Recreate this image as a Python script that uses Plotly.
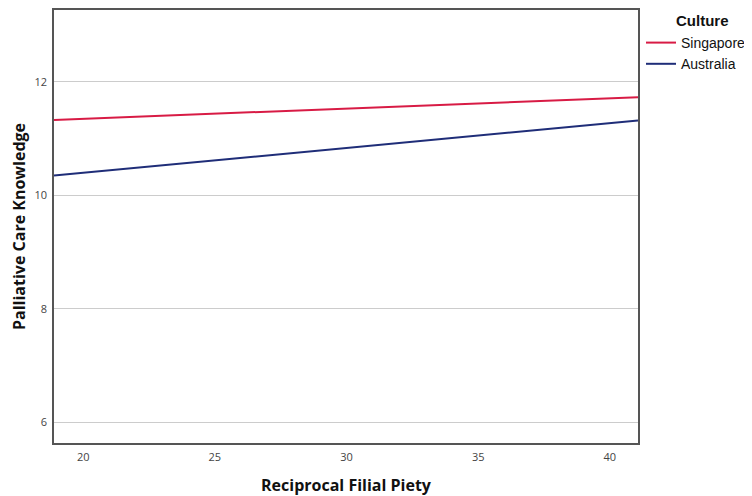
import plotly.graph_objects as go

x_range = [18.89, 41.07]
y_range = [5.63, 13.27]
singapore_x = [18.89, 41.07]
singapore_y = [11.33, 11.73]
australia_x = [18.89, 41.07]
australia_y = [10.35, 11.32]
x_ticks = [20, 25, 30, 35, 40]
y_ticks = [6, 8, 10, 12]

fig = go.Figure()
fig.add_trace(go.Scatter(x=singapore_x, y=singapore_y, mode="lines", name="Singapore",
                         line=dict(color="#d81b45", width=2)))
fig.add_trace(go.Scatter(x=australia_x, y=australia_y, mode="lines", name="Australia",
                         line=dict(color="#1f2d78", width=2)))

W, H = 744, 488
L, R, T, B = 46, 114, 2, 53
PW, PH = W - L - R, H - T - B

fig.update_layout(
    width=W, height=H,
    margin=dict(l=L, r=R, t=T, b=B, autoexpand=False),
    plot_bgcolor="white", paper_bgcolor="white",
    font=dict(family="Open Sans", color="#333333"),
    showlegend=True,
    legend=dict(
        x=(633 - L) / PW, y=(PH - 17) / PH, xanchor="left", yanchor="top",
        xref="paper", yref="paper",
        font=dict(family="Liberation Sans", size=14, color="#111111"),
        itemwidth=30, tracegroupgap=0, bgcolor="rgba(0,0,0,0)",
    ),
    annotations=[dict(
        text="<b>Culture</b>", xref="paper", yref="paper",
        x=(666 - L) / PW, y=(PH - 10) / PH, xanchor="left", yanchor="middle",
        showarrow=False, font=dict(family="Liberation Sans", size=15, color="#111111"),
    )],
    xaxis=dict(
        range=x_range, tickvals=x_ticks, showgrid=False, zeroline=False,
        showline=True, linecolor="#555555", linewidth=1.5, mirror=True,
        ticks="outside", ticklen=3, tickcolor="rgba(0,0,0,0)", automargin=False,
        tickfont=dict(family="Open Sans", size=11, color="#444444"),
        title=dict(text="<b>Reciprocal Filial Piety</b>", font=dict(family="Open Sans", size=16, color="#111111"), standoff=17),
    ),
    yaxis=dict(
        range=y_range, tickvals=y_ticks, showgrid=True, gridcolor="#cccccc", gridwidth=1,
        zeroline=False, showline=True, linecolor="#555555", linewidth=1.5, mirror=True,
        ticks="outside", ticklen=3, tickcolor="rgba(0,0,0,0)", automargin=False,
        tickfont=dict(family="Open Sans", size=11, color="#444444"),
        title=dict(text="<b>Palliative Care Knowledge</b>", font=dict(family="Open Sans", size=16, color="#111111"), standoff=26),
    ),
)

fig.write_html("out.html")
